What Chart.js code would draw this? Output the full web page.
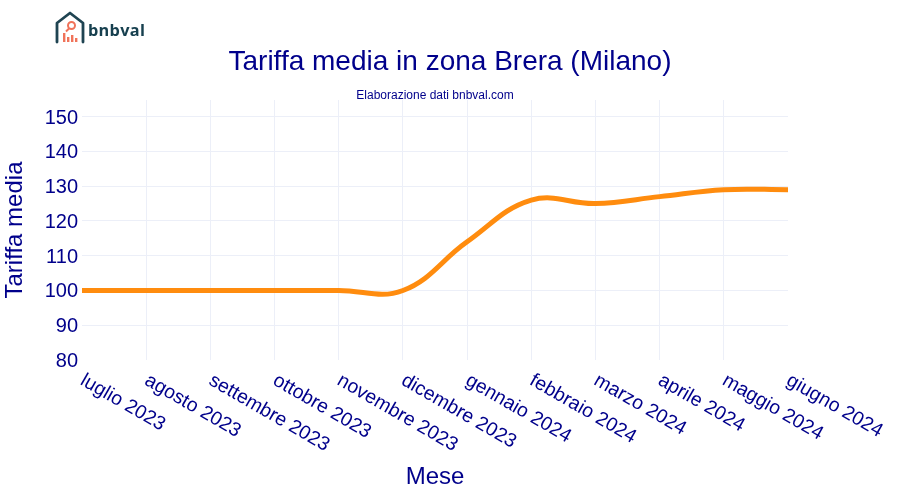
<!DOCTYPE html>
<html><head><meta charset="utf-8">
<style>html,body{margin:0;padding:0;background:#fff;width:900px;height:500px;overflow:hidden}
#w{position:relative;width:900px;height:500px}
#logo{position:absolute;left:54px;top:10px}
#brand{position:absolute;left:88px;top:19px;font:bold 16.300px "Open Sans",sans-serif;color:#17404f;letter-spacing:.3px;line-height:22px}
</style>
<script src="https://cdn.jsdelivr.net/npm/chart.js@4"></script></head>
<body><div id="w"><canvas id="c" width="900" height="500"></canvas>
<svg id="logo" width="32" height="36" viewBox="0 0 32 36"><path d="M3 32V13L16 3L29 13V32" fill="none" stroke="#1f4452" stroke-width="2.800" stroke-linecap="round" stroke-linejoin="round"/>
<circle cx="17.500" cy="15.500" r="3.500" fill="none" stroke="#f0735a" stroke-width="2"/><path d="M15 18.500L12 21.500" stroke="#f0735a" stroke-width="2"/>
<rect x="9" y="23" width="2.400" height="9" fill="#f0735a"/><rect x="13" y="27" width="2.400" height="5" fill="#f0735a"/><rect x="17" y="25" width="2.400" height="7" fill="#f0735a"/><rect x="21" y="28" width="2.400" height="4" fill="#f0735a"/></svg>
<div id="brand">bnbval</div></div>
<script>
const categories=["luglio 2023","agosto 2023","settembre 2023","ottobre 2023","novembre 2023","dicembre 2023","gennaio 2024","febbraio 2024","marzo 2024","aprile 2024","maggio 2024","giugno 2024"];
const tariffa=[100,100,100,100,100,100,114,126,125,127,129,129];
const titleText="Tariffa media in zona Brera (Milano)";
const subtitleText="Elaborazione dati bnbval.com";
const xTitle="Mese", yTitle="Tariffa media";
const yMin=80,yMax=154.8;
const yTicks=[80,90,100,110,120,130,140,150];
const navy="#00008B",grid="#ECEFF8",font="'Liberation Sans',Arial,sans-serif";
new Chart(document.getElementById('c'),{type:'line',
data:{labels:categories,datasets:[{data:tariffa,borderColor:'#FF8C0E',borderWidth:5,pointRadius:0,tension:0.4,fill:false,clip:false}]},
options:{responsive:false,animation:false,devicePixelRatio:1,
layout:{padding:{left:0,right:0,top:45,bottom:0}},
plugins:{legend:{display:false},tooltip:{enabled:false},
title:{display:true,text:titleText,color:navy,font:{family:font,size:28,weight:'normal'},padding:{top:0,bottom:10}},
subtitle:{display:true,fullSize:false,text:subtitleText,color:navy,font:{family:font,size:12,weight:'normal'},padding:{top:0,bottom:-3}}},
scales:{
x:{type:'category',offset:false,border:{display:false},
grid:{color:c=>(c.index===0||c.index===categories.length-1)?'rgba(0,0,0,0)':grid,lineWidth:1,drawTicks:false},
ticks:{color:navy,font:{family:font,size:19.5},padding:9,autoSkip:false},
title:{display:true,text:xTitle,color:navy,font:{family:font,size:24},padding:{top:0,bottom:8}},
afterCalculateLabelRotation:s=>{s.labelRotation=-30;s._getXAxisLabelAlignment=()=>'left';},
afterFit:s=>{s.height=140;s.paddingLeft=0;s.paddingRight=112;}},
y:{min:yMin,max:yMax,border:{display:false},afterBuildTicks:s=>{s.ticks=yTicks.map(v=>({value:v}));},
grid:{color:c=>c.tick&&c.tick.value===yMin?'rgba(0,0,0,0)':grid,lineWidth:1,drawTicks:false},
ticks:{color:navy,font:{family:font,size:20},padding:4,labelOffset:1.5},
title:{display:true,text:yTitle,color:navy,font:{family:font,size:24},padding:{top:1,bottom:0}},
afterFit:s=>{s.width=82;}}
}}});
</script></body></html>
